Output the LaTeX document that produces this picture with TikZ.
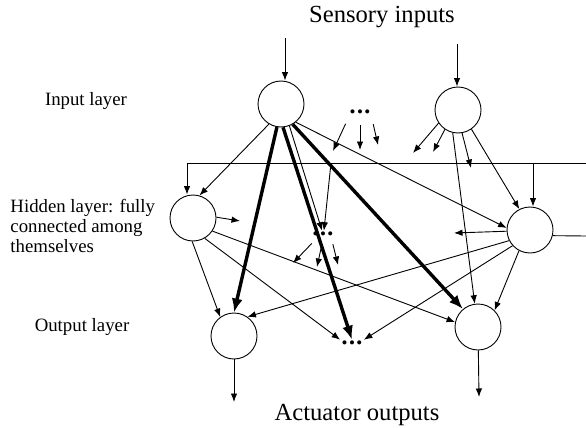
\documentclass[tikz,border=0pt]{standalone}
\usepackage{fontspec}
\setmainfont{Liberation Serif}
\usetikzlibrary{arrows.meta}

\newcommand{\threedots}{\textbullet\kern1.5pt\textbullet\kern1.5pt\textbullet}

\begin{document}
\begin{tikzpicture}[x=1pt,y=-1pt,line width=0.9pt,
   neuron/.style={draw,circle,minimum size=46pt,inner sep=0pt},
   dots/.style={inner sep=1pt,font=\fontsize{17}{17}\selectfont},
   lbl/.style={font=\fontsize{18.8}{20}\selectfont,align=left,inner sep=0pt},
   big/.style={font=\fontsize{24.6}{26}\selectfont,inner sep=0pt},
   arr/.style={-{Latex[length=8.5pt,width=6.5pt]}},
   heavy/.style={-{Latex[length=14pt,width=11pt]},line width=3.4pt}]
  \useasboundingbox (0,0) rectangle (586,428);

  % layer labels
  \node[big,anchor=base] (tIn)  at (382,23)  {Sensory inputs};
  \node[big,anchor=base] (tOut) at (357,420) {Actuator outputs};
  \node[lbl,anchor=base] (lIn)  at (86,105)  {Input layer};
  \node[lbl,anchor=north west] (lHid) at (10,199)
       {Hidden layer: fully\\connected among\\themselves};
  \node[lbl,anchor=base] (lOut) at (82,331)  {Output layer};

  % neurons
  \node[neuron] (I1) at (281,104) {};
  \node[neuron] (I2) at (458,110) {};
  \node[neuron] (H1) at (193,218) {};
  \node[neuron] (H2) at (530,230) {};
  \node[neuron] (O1) at (234,336) {};
  \node[neuron] (O2) at (478,327) {};
  \node[dots] (dT) at (360,114) {\threedots};
  \node[dots] (dM) at (323,236) {\threedots};
  \node[dots] (dB) at (352,345) {\threedots};

  % free ends
  \coordinate (inA)  at (285,38);
  \coordinate (inB)  at (457,44);
  \coordinate (outA) at (234,402);
  \coordinate (outB) at (479,397);
  \coordinate (busL) at (187,163);
  \coordinate (busR) at (586,163);
  \coordinate (busM) at (331,163);
  \coordinate (busH) at (533,163);
  \coordinate (edgeH) at (586,236);

  % inputs and outputs
  \draw[arr] (inA) -- (inA |- I1.north);
  \draw[arr] (inB) -- (inB |- I2.north);
  \draw[arr] (O1) -- (outA);
  \draw[arr] (O2) -- (outB);

  % recurrent bus of the hidden layer
  \draw (busR) -- (busL);
  \draw[arr] (busL) -- (busL |- H1.north);
  \draw[arr] (busH) -- (busH |- H2.north);
  \draw[arr] (busM) -- (dM.80);
  \draw (H2.346) -- (edgeH);

  % from input layer
  \draw[arr] (I1.239) -- (H1.74);
  \draw[arr] (I1.291) -- (dM.100);
  \draw[arr] (I1.309) -- (H2.175);
  \draw[arr] (I2.257) -- (O2.98);
  \draw[arr] (I2.305) -- (H2.117);
  \draw[arr] (I2.214) -- (413,153);
  \draw[arr] (I2.236) -- (433,152);
  \draw[arr] (I2.280) -- (471,168);
  \draw[arr,shorten <=6pt] (dT.200) -- (333,151);
  \draw[arr,shorten <=6pt] (dT.270) -- (360,150);
  \draw[arr,shorten <=6pt] (dT.340) -- (378,145);

  % from hidden layer
  \draw[arr] (H1.2) -- (240,221);
  \draw[arr] (H1.268) -- (O1.126);
  \draw[arr] (H1.300) -- (dB.north west);
  \draw[arr] (H1.326) -- (O2.168);
  \draw[arr] (H2.183) -- (454,233);
  \draw[arr] (H2.207) -- (O1.55);
  \draw[arr] (H2.222) -- (dB.north east);
  \draw[arr] (H2.242) -- (O2.45);
  \draw[arr,shorten <=3pt] (dM.210) -- (293,263);
  \draw[arr,shorten <=3pt] (dM.265) -- (317,267);
  \draw[arr,shorten <=3pt] (dM.330) -- (338,265);

  % strong direct paths
  \draw[heavy] (I1.260) -- (O1.north);
  \draw[heavy] (I1.275) -- (dB.north);
  \draw[heavy] (I1.300) -- (O2.130);
\end{tikzpicture}
\end{document}
